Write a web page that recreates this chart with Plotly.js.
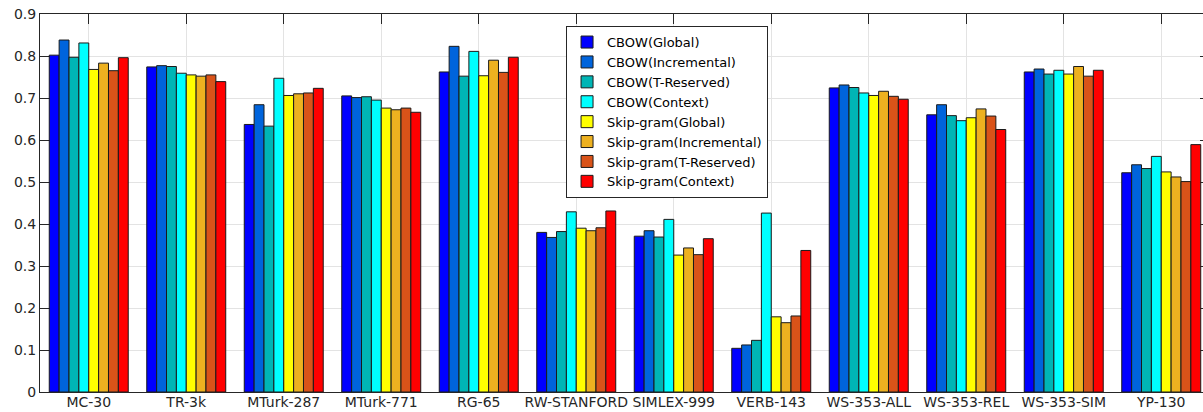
<!DOCTYPE html>
<html>
<head>
<meta charset="utf-8">
<script src="https://cdn.plot.ly/plotly-3.0.1.min.js"></script>
<style>
html,body{margin:0;padding:0;overflow:hidden;background:#fff;}
#chart{width:1215px;height:412px;}
</style>
</head>
<body>
<div id="chart"></div>
<script>
const categories = ['MC-30','TR-3k','MTurk-287','MTurk-771','RG-65','RW-STANFORD','SIMLEX-999','VERB-143','WS-353-ALL','WS-353-REL','WS-353-SIM','YP-130'];
const seriesNames = ['CBOW(Global)','CBOW(Incremental)','CBOW(T-Reserved)','CBOW(Context)','Skip-gram(Global)','Skip-gram(Incremental)','Skip-gram(T-Reserved)','Skip-gram(Context)'];
const seriesColors = ['#0000ff','#0064dc','#00b5b5','#00ffff','#ffff00','#edb120','#d95319','#ff0000'];

const cbowGlobal      = [0.802,0.774,0.637,0.705,0.762,0.380,0.371,0.104,0.724,0.660,0.762,0.522];
const cbowIncremental = [0.838,0.777,0.684,0.701,0.823,0.368,0.384,0.112,0.731,0.684,0.769,0.541];
const cbowTReserved   = [0.797,0.775,0.633,0.703,0.752,0.382,0.369,0.123,0.725,0.658,0.757,0.532];
const cbowContext     = [0.831,0.759,0.747,0.695,0.811,0.429,0.411,0.426,0.712,0.646,0.766,0.561];
const sgGlobal        = [0.768,0.755,0.706,0.676,0.753,0.390,0.326,0.179,0.706,0.653,0.757,0.524];
const sgIncremental   = [0.783,0.752,0.710,0.672,0.790,0.384,0.343,0.165,0.716,0.674,0.775,0.512];
const sgTReserved     = [0.765,0.755,0.712,0.676,0.761,0.391,0.327,0.181,0.704,0.657,0.752,0.501];
const sgContext       = [0.796,0.739,0.723,0.666,0.797,0.431,0.365,0.337,0.697,0.625,0.766,0.589];

const allSeries = [cbowGlobal,cbowIncremental,cbowTReserved,cbowContext,sgGlobal,sgIncremental,sgTReserved,sgContext];

const traces = allSeries.map((vals,i)=>({
  type:'bar',
  name: seriesNames[i],
  x: categories,
  y: vals,
  marker:{color: seriesColors[i], line:{color:'#1a1a1a', width:1}},
  hoverinfo:'x+y+name'
}));

const fontFam = 'DejaVu Sans, Liberation Sans, Arial, sans-serif';

const layout = {
  width:1215, height:412,
  margin:{l:40, r:5, t:14, b:20, pad:0},
  paper_bgcolor:'#ffffff',
  plot_bgcolor:'#ffffff',
  barmode:'group',
  bargap:0.19,
  bargroupgap:0,
  showlegend:true,
  font:{family:fontFam, size:13, color:'#262626'},
  xaxis:{
    type:'category',
    range:[-0.5, 11.5],
    showgrid:true, gridcolor:'#e3e3e3', gridwidth:1,
    showline:true, linecolor:'#262626', linewidth:1, mirror:'ticks',
    ticks:'inside', ticklen:10, tickcolor:'#262626',
    tickfont:{family:fontFam, size:14, color:'#262626'},
    ticklabelstandoff:-3,
    layer:'below traces',
    zeroline:false,
    fixedrange:true
  },
  yaxis:{
    range:[0,0.9],
    dtick:0.1, tick0:0,
    showgrid:true, gridcolor:'#e3e3e3', gridwidth:1,
    showline:true, linecolor:'#262626', linewidth:1, mirror:'ticks',
    ticks:'inside', ticklen:10, tickcolor:'#262626',
    tickfont:{family:fontFam, size:14, color:'#262626'},
    layer:'below traces',
    zeroline:false,
    fixedrange:true
  },
  legend:{
    x:0.4496, y:0.968, xanchor:'left', yanchor:'top',
    bgcolor:'#ffffff', bordercolor:'#262626', borderwidth:1,
    font:{family:fontFam, size:13, color:'#000000'},
    tracegroupgap:0,
    traceorder:'normal',
    itemwidth:30
  }
};

Plotly.newPlot('chart', traces, layout, {displayModeBar:false, staticPlot:true});
</script>
</body>
</html>
